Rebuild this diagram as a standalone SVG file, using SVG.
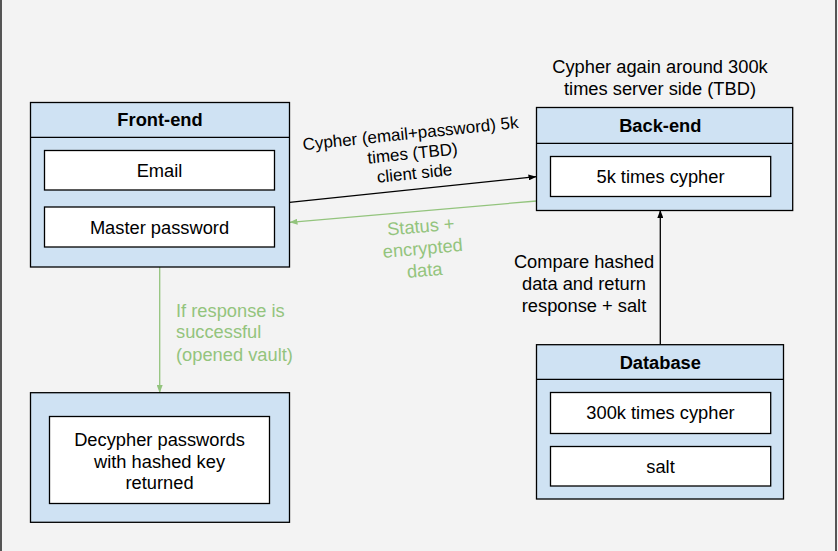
<svg xmlns="http://www.w3.org/2000/svg" width="838" height="551" viewBox="0 0 838 551">
<style>
.t{font-family:"Liberation Sans",Arial,sans-serif;font-size:18.3px;fill:#000;text-anchor:middle}
.b{font-weight:bold}
.g{fill:#93c47d}
.outer{fill:#cfe2f3;stroke:#000;stroke-width:1.3}
.inner{fill:#fff;stroke:#000;stroke-width:1.3}
.hdr{stroke:#000;stroke-width:1.3}
.cb{fill:none;stroke:#000;stroke-width:1.3}
.cg{fill:none;stroke:#93c47d;stroke-width:1.3}
.r{font-size:17px}
</style>
<defs>
<marker id="ab" markerWidth="8" markerHeight="6" refX="7.5" refY="3" orient="auto" markerUnits="userSpaceOnUse"><path d="M0,0 L8,3 L0,6 Z" fill="#000"/></marker>
<marker id="ag" markerWidth="8" markerHeight="6" refX="7.5" refY="3" orient="auto" markerUnits="userSpaceOnUse"><path d="M0,0 L8,3 L0,6 Z" fill="#93c47d"/></marker>
</defs>
<rect x="0" y="0" width="838" height="551" fill="#f3f3f3"/>
<rect x="1" y="-10" width="835" height="571" fill="none" stroke="#000" stroke-width="1.3"/>

<g id="connectors">
<line class="cb" x1="289.5" y1="202.3" x2="536" y2="176.7" marker-end="url(#ab)"/>
<line class="cg" x1="536.5" y1="201" x2="290" y2="222.3" marker-end="url(#ag)"/>
<line class="cg" x1="159.7" y1="267" x2="159.7" y2="392.5" marker-end="url(#ag)"/>
<line class="cb" x1="660.3" y1="344.7" x2="660.3" y2="210.5" marker-end="url(#ab)"/>
<g transform="rotate(-5.9 412.5 153)">
<text class="t r" x="412.5" y="139">Cypher (email+password) 5k</text>
<text class="t r" x="412.5" y="159">times (TBD)</text>
<text class="t r" x="412.5" y="179">client side</text>
</g>
<g transform="rotate(-5 422.7 248)">
<text class="t g" x="422.7" y="232.5">Status +</text>
<text class="t g" x="422.7" y="254.5">encrypted</text>
<text class="t g" x="422.7" y="276.5">data</text>
</g>
<text class="t g" style="text-anchor:start" x="176" y="316.5">If response is</text>
<text class="t g" style="text-anchor:start" x="176" y="338.2">successful</text>
<text class="t g" style="text-anchor:start" x="176" y="360.5">(opened vault)</text>
<text class="t" x="584" y="267.5">Compare hashed</text>
<text class="t" x="584" y="289.5">data and return</text>
<text class="t" x="584" y="311.5">response + salt</text>
</g>

<g id="note-server">
<text class="t" x="660" y="72.8">Cypher again around 300k</text>
<text class="t" x="660" y="94.5">times server side (TBD)</text>
</g>

<g id="frontend">
<rect class="outer" x="30.5" y="102.5" width="259" height="164.5"/>
<line class="hdr" x1="30.5" y1="137.3" x2="289.5" y2="137.3"/>
<text class="t b" x="160" y="126.3">Front-end</text>
<rect class="inner" x="44.5" y="150.5" width="230" height="39.5"/>
<text class="t" x="159.5" y="176.5">Email</text>
<rect class="inner" x="44.5" y="207" width="230" height="40"/>
<text class="t" x="159.5" y="233.5">Master password</text>
</g>

<g id="decypher">
<rect class="outer" x="30.5" y="392.7" width="259" height="129.6"/>
<rect class="inner" x="49.5" y="416.5" width="220" height="87"/>
<text class="t" x="159.5" y="445.8">Decypher passwords</text>
<text class="t" x="159.5" y="467.5">with hashed key</text>
<text class="t" x="159.5" y="489.2">returned</text>
</g>

<g id="backend">
<rect class="outer" x="536.5" y="107.5" width="256.2" height="103"/>
<line class="hdr" x1="536.5" y1="143.3" x2="792.7" y2="143.3"/>
<text class="t b" x="660.3" y="131.5">Back-end</text>
<rect class="inner" x="550.5" y="156.5" width="220.2" height="40"/>
<text class="t" x="660.5" y="182.8">5k times cypher</text>
</g>

<g id="database">
<rect class="outer" x="536.5" y="344.7" width="247" height="154.3"/>
<line class="hdr" x1="536.5" y1="379.3" x2="783.5" y2="379.3"/>
<text class="t b" x="660.3" y="368.5">Database</text>
<rect class="inner" x="550.5" y="392.5" width="220.2" height="41"/>
<text class="t" x="660.5" y="419.3">300k times cypher</text>
<rect class="inner" x="550.5" y="446.5" width="220.2" height="39.5"/>
<text class="t" x="660.5" y="472.5">salt</text>
</g>
</svg>
